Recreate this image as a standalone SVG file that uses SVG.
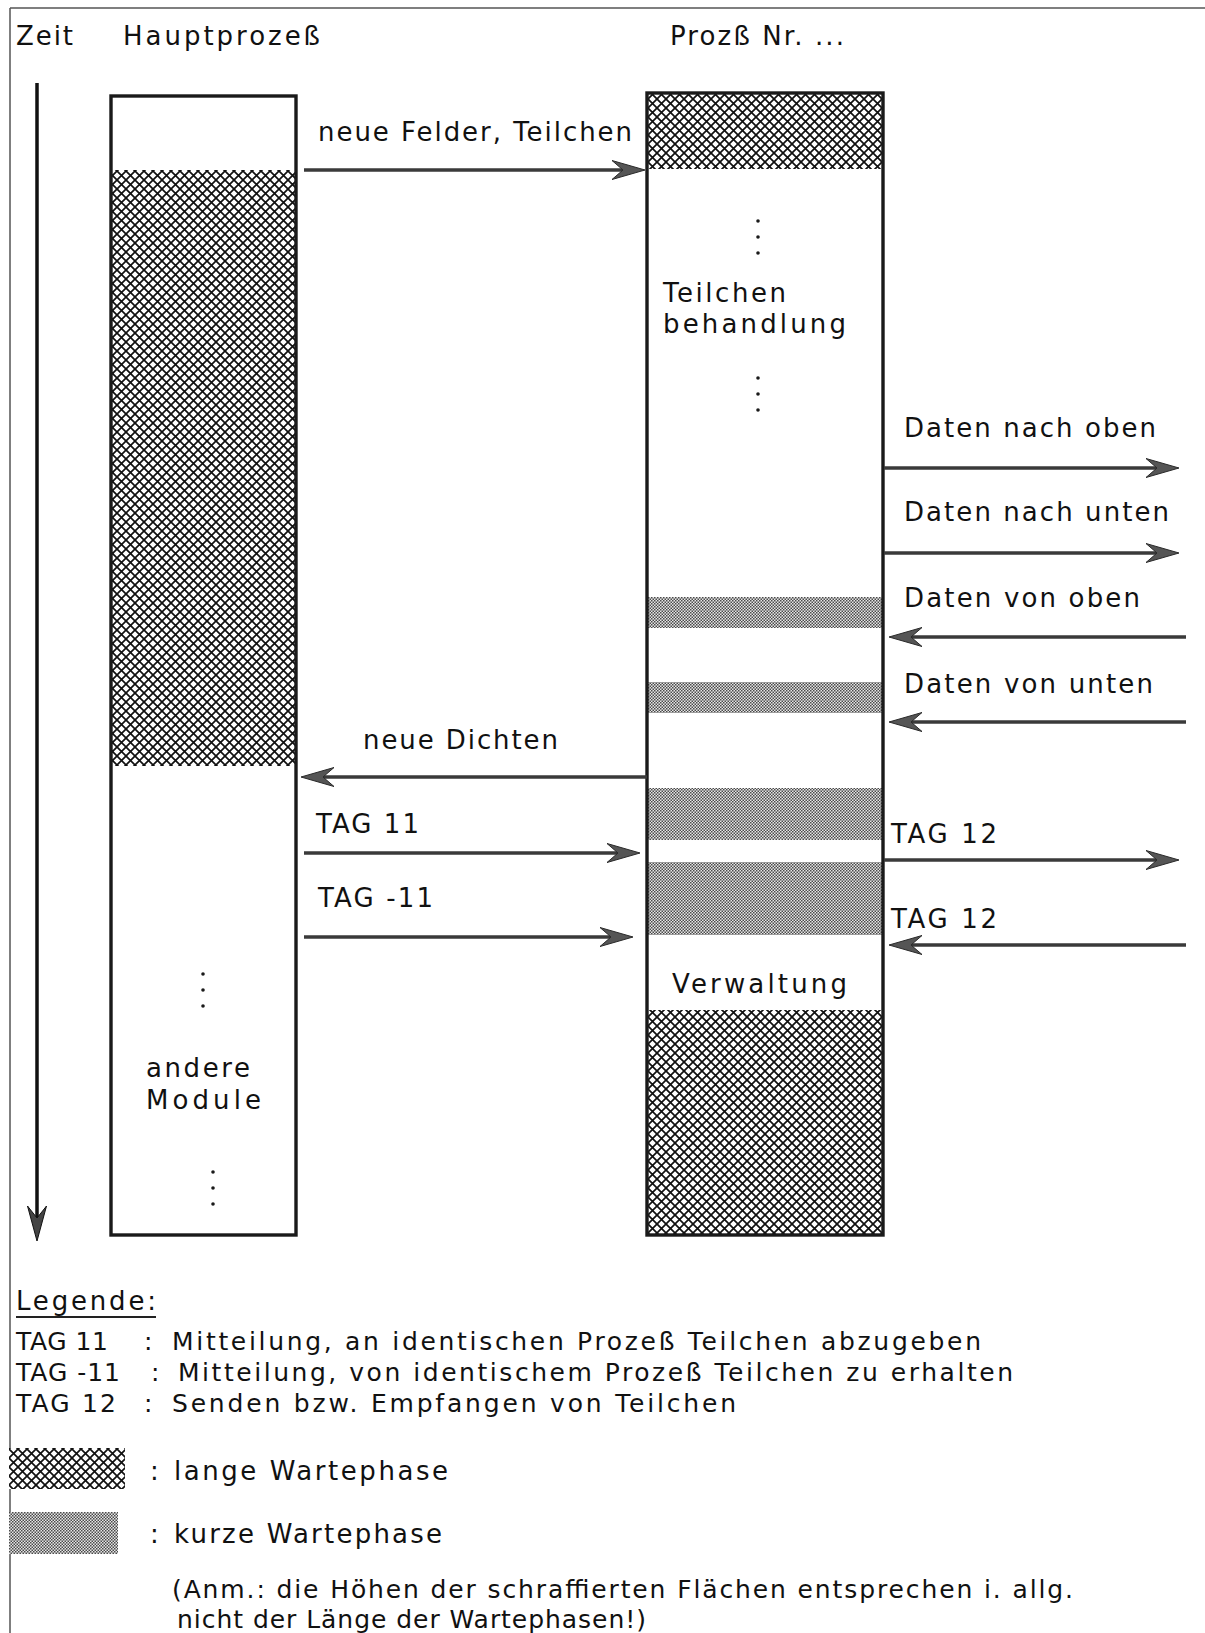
<svg xmlns="http://www.w3.org/2000/svg" width="1205" height="1633" viewBox="0 0 1205 1633">
<style>
  text { font-family: "DejaVu Sans", "Noto Sans", "Liberation Sans", sans-serif; font-size: 26px; fill: #111; }
  .lg { font-size: 25px; }
  .box { fill: none; stroke: #1a1a1a; stroke-width: 3.4; }
  .conn { stroke: #3a3a3a; stroke-width: 3.4; fill: none; }
  .frame { stroke: #555; stroke-width: 1.5; fill: none; }
  .dot { fill: #1a1a1a; }
</style>
<defs>
  <pattern id="cross" width="9" height="9" patternUnits="userSpaceOnUse">
    <rect width="9" height="9" fill="#fff"/>
    <path d="M-1,-1 L10,10 M10,-1 L-1,10" stroke="#111" stroke-width="1.7"/>
  </pattern>
  <pattern id="dots" width="3" height="3" patternUnits="userSpaceOnUse">
    <rect width="3" height="3" fill="#e6e6e6"/>
    <rect x="0" y="0" width="1.5" height="1.5" fill="#4a4a4a"/>
    <rect x="1.5" y="1.5" width="1.5" height="1.5" fill="#4a4a4a"/>
  </pattern>
  <marker id="ah" markerUnits="userSpaceOnUse" viewBox="0 0 34 20" markerWidth="34" markerHeight="20" refX="20" refY="10" orient="auto">
    <path d="M33,10 L0,0.5 L11,10 L0,19.5 Z" fill="#555" stroke="#2a2a2a" stroke-width="1"/>
  </marker>
  <marker id="ahk" markerUnits="userSpaceOnUse" viewBox="0 0 36 20" markerWidth="36" markerHeight="20" refX="20" refY="10" orient="auto">
    <path d="M35,10 L0,0.5 L12,10 L0,19.5 Z" fill="#444" stroke="#111" stroke-width="1"/>
  </marker>
</defs>

<g id="frame">
  <line class="frame" x1="10" y1="8" x2="1205" y2="8"/>
  <line class="frame" x1="10" y1="8" x2="10" y2="1633"/>
</g>

<g id="header">
  <text x="16" y="45" textLength="57">Zeit</text>
  <text x="123" y="45" textLength="197">Hauptprozeß</text>
  <text x="670" y="45" textLength="174">Prozß Nr. ...</text>
</g>

<g id="time-axis">
  <line x1="37" y1="83" x2="37" y2="1226" stroke="#111" stroke-width="3.5" marker-end="url(#ahk)"/>
</g>

<g id="node-hauptprozess">
  <rect x="111" y="170" width="185" height="596" fill="url(#cross)"/>
  <rect class="box" x="111" y="96" width="185" height="1139"/>
  <circle class="dot" cx="203" cy="974" r="1.8"/>
  <circle class="dot" cx="203" cy="990" r="1.8"/>
  <circle class="dot" cx="203" cy="1006" r="1.8"/>
  <text x="146" y="1077" textLength="104">andere</text>
  <text x="146" y="1109" textLength="115">Module</text>
  <circle class="dot" cx="213" cy="1172" r="1.8"/>
  <circle class="dot" cx="213" cy="1188" r="1.8"/>
  <circle class="dot" cx="213" cy="1204" r="1.8"/>
</g>

<g id="node-prozess">
  <rect x="647" y="93" width="236" height="76" fill="url(#cross)"/>
  <rect x="647" y="597" width="236" height="31" fill="url(#dots)"/>
  <rect x="647" y="682" width="236" height="31" fill="url(#dots)"/>
  <rect x="647" y="788" width="236" height="52" fill="url(#dots)"/>
  <rect x="647" y="862" width="236" height="73" fill="url(#dots)"/>
  <rect x="647" y="1010" width="236" height="225" fill="url(#cross)"/>
  <rect class="box" x="647" y="93" width="236" height="1142"/>
  <circle class="dot" cx="758" cy="221" r="1.8"/>
  <circle class="dot" cx="758" cy="237" r="1.8"/>
  <circle class="dot" cx="758" cy="253" r="1.8"/>
  <text x="663" y="302" textLength="123">Teilchen</text>
  <text x="663" y="333" textLength="183">behandlung</text>
  <circle class="dot" cx="758" cy="378" r="1.8"/>
  <circle class="dot" cx="758" cy="394" r="1.8"/>
  <circle class="dot" cx="758" cy="410" r="1.8"/>
  <text x="672" y="993" textLength="175">Verwaltung</text>
</g>

<g id="connectors">
  <line class="conn" x1="304" y1="170" x2="632" y2="170" marker-end="url(#ah)"/>
  <line class="conn" x1="884" y1="468" x2="1166" y2="468" marker-end="url(#ah)"/>
  <line class="conn" x1="884" y1="553" x2="1166" y2="553" marker-end="url(#ah)"/>
  <line class="conn" x1="1186" y1="637" x2="902" y2="637" marker-end="url(#ah)"/>
  <line class="conn" x1="1186" y1="722" x2="902" y2="722" marker-end="url(#ah)"/>
  <line class="conn" x1="647" y1="777" x2="314" y2="777" marker-end="url(#ah)"/>
  <line class="conn" x1="304" y1="853" x2="627" y2="853" marker-end="url(#ah)"/>
  <line class="conn" x1="304" y1="937" x2="620" y2="937" marker-end="url(#ah)"/>
  <line class="conn" x1="884" y1="860" x2="1166" y2="860" marker-end="url(#ah)"/>
  <line class="conn" x1="1186" y1="945" x2="902" y2="945" marker-end="url(#ah)"/>
</g>

<g id="connector-labels">
  <text x="318" y="141" textLength="314">neue Felder, Teilchen</text>
  <text x="904" y="437" textLength="252">Daten nach oben</text>
  <text x="904" y="521" textLength="265">Daten nach unten</text>
  <text x="904" y="607" textLength="236">Daten von oben</text>
  <text x="904" y="693" textLength="249">Daten von unten</text>
  <text x="363" y="749" textLength="195">neue Dichten</text>
  <text x="316" y="833" textLength="103">TAG 11</text>
  <text x="318" y="907" textLength="115">TAG -11</text>
  <text x="891" y="843" textLength="106">TAG 12</text>
  <text x="891" y="928" textLength="106">TAG 12</text>
</g>

<g id="legend">
  <text x="16" y="1310" textLength="140">Legende:</text>
  <line x1="16" y1="1317" x2="156" y2="1317" stroke="#222" stroke-width="1.8"/>
  <text class="lg" x="16" y="1350" textLength="92">TAG 11</text>
  <text class="lg" x="144" y="1350">:</text>
  <text class="lg" x="172" y="1350" textLength="809">Mitteilung, an identischen Prozeß Teilchen abzugeben</text>
  <text class="lg" x="16" y="1381" textLength="104">TAG -11</text>
  <text class="lg" x="151" y="1381">:</text>
  <text class="lg" x="178" y="1381" textLength="835">Mitteilung, von identischem Prozeß Teilchen zu erhalten</text>
  <text class="lg" x="16" y="1412" textLength="100">TAG 12</text>
  <text class="lg" x="144" y="1412">:</text>
  <text class="lg" x="172" y="1412" textLength="564">Senden bzw. Empfangen von Teilchen</text>
  <rect x="9" y="1448" width="116" height="41" fill="url(#cross)"/>
  <text x="150" y="1480">:</text>
  <text x="174" y="1480" textLength="274">lange Wartephase</text>
  <rect x="9" y="1512" width="109" height="42" fill="url(#dots)"/>
  <text x="150" y="1543">:</text>
  <text x="174" y="1543" textLength="268">kurze Wartephase</text>
  <text class="lg" x="172" y="1598" textLength="901">(Anm.: die Höhen der schraffierten Flächen entsprechen i. allg.</text>
  <text class="lg" x="177" y="1628" textLength="469">nicht der Länge der Wartephasen!)</text>
</g>
</svg>
